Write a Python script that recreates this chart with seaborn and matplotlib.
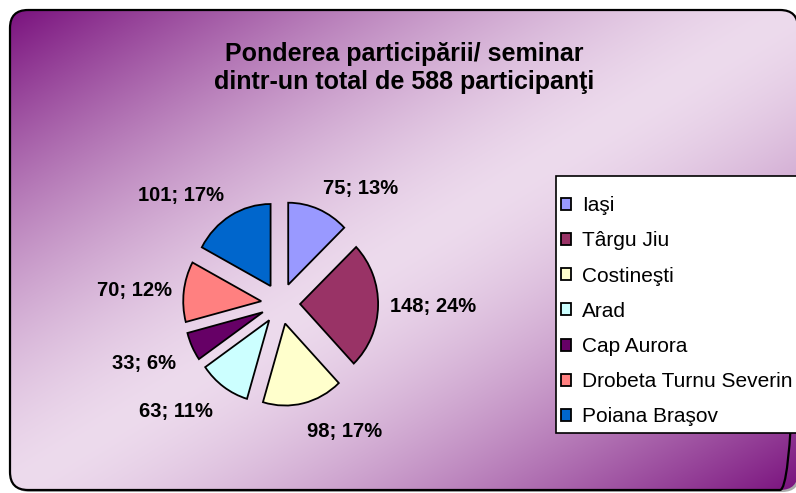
import numpy as np
import matplotlib
matplotlib.use("Agg")
import matplotlib.pyplot as plt
from matplotlib.patches import FancyBboxPatch, Rectangle
import seaborn as sns

# ---- data ----
cities = ["Iaşi", "Târgu Jiu", "Costineşti", "Arad", "Cap Aurora",
          "Drobeta Turnu Severin", "Poiana Braşov"]
participants = [75, 148, 98, 63, 33, 70, 101]
percent_labels = [13, 24, 17, 11, 6, 12, 17]
slice_colors = ["#9999FF", "#993366", "#FFFFCC", "#CCFFFF", "#660066",
                "#FF8080", "#0066CC"]
title_text = "Ponderea participării/ seminar\ndintr-un total de 588 participanţi"

sns.set_theme(style="white")
plt.rcParams["font.family"] = ["Liberation Sans", "DejaVu Sans"]
plt.rcParams["text.color"] = "black"

W, H = 796, 493
fig = plt.figure(figsize=(W / 100, H / 100), dpi=100)
fig.patch.set_facecolor("white")

# ---- background with gradient, rounded frame ----
bg = fig.add_axes([0, 0, 1, 1])
bg.set_xlim(0, W)
bg.set_ylim(H, 0)
bg.axis("off")

fx0, fy0, fw, fh = 10, 10, 788, 480
shadow = FancyBboxPatch((fx0 + 2, fy0 + 2), fw, fh,
                        boxstyle="round,pad=0,rounding_size=18",
                        facecolor="#aaaaaa", edgecolor="none", zorder=0)
bg.add_patch(shadow)

xx, yy = np.meshgrid(np.linspace(0, 1, 400), np.linspace(0, 1, 250))
t = (xx + yy) / 2.0
s = np.abs(t - 0.5) * 2.0
s = s ** 1.45
dark = np.array([122, 18, 126]) / 255.0
light = np.array([237, 219, 237]) / 255.0
img = light[None, None, :] * (1 - s[..., None]) + dark[None, None, :] * s[..., None]
im = bg.imshow(img, extent=[fx0, fx0 + fw, fy0 + fh, fy0], aspect="auto",
               interpolation="bilinear", zorder=1)
frame = FancyBboxPatch((fx0, fy0), fw, fh,
                       boxstyle="round,pad=0,rounding_size=18",
                       facecolor="none", edgecolor="black", linewidth=1.6,
                       zorder=3)
bg.add_patch(frame)
im.set_clip_path(frame)

# legend box
bg.add_patch(Rectangle((556, 176), 250, 257, facecolor="white",
                       edgecolor="black", linewidth=1.2, zorder=4))

# ---- title ----
fig.text(404 / W, 1 - 68 / H, title_text, ha="center", va="center",
         fontsize=18, fontweight="bold", color="black", linespacing=1.22)

# ---- pie ----
cx, cy, rx, ry = 280.6, 303.6, 78.0, 82.0
L = 2.2
ax = fig.add_axes([(cx - L * rx) / W, (H - cy - L * ry) / H,
                   2 * L * rx / W, 2 * L * ry / H])
ax.patch.set_alpha(0)
wedges, _ = ax.pie(participants, colors=slice_colors, startangle=90,
                   counterclock=False, explode=[0.25] * len(participants),
                   wedgeprops=dict(edgecolor="black", linewidth=1.3))
ax.set_aspect("auto")
ax.set_xlim(-L, L)
ax.set_ylim(-L, L)
ax.axis("off")

label_r = 1.4
for w, n, p in zip(wedges, participants, percent_labels):
    ang = np.deg2rad((w.theta1 + w.theta2) / 2)
    c, sn = np.cos(ang), np.sin(ang)
    ha = "left" if c > 0.1 else ("right" if c < -0.1 else "center")
    va = "bottom" if sn > 0.3 else ("top" if sn < -0.3 else "center")
    r = label_r + (0.08 if sn < -0.3 else 0.0)
    ax.text(r * c, r * sn, f"{n}; {p}%", ha=ha, va=va,
            fontsize=14.5, fontweight="bold", color="black", clip_on=False)

# ---- legend ----
leg = fig.legend(wedges, cities, loc="upper left",
                 bbox_to_anchor=(561 / W, 1 - 196 / H), borderaxespad=0,
                 frameon=False, fontsize=15, labelcolor="black",
                 handlelength=0.5, handleheight=0.5, handletextpad=0.5,
                 labelspacing=0.78, borderpad=0)
leg.set_zorder(5)

fig.savefig("out.png", dpi=100)
